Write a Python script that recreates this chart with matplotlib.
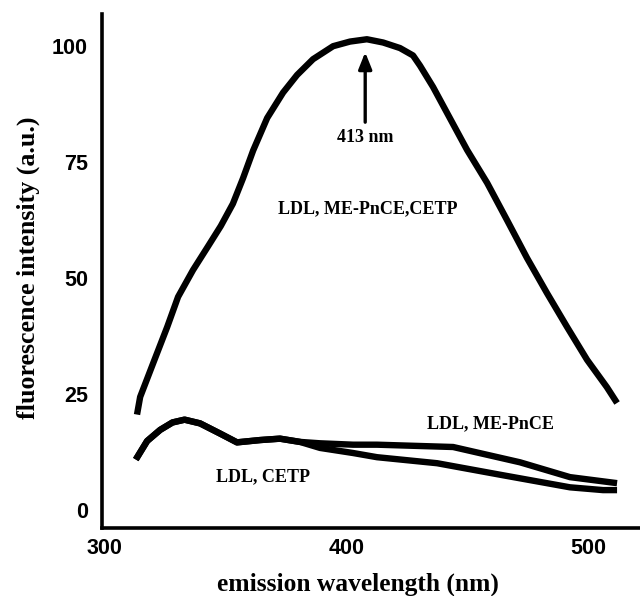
import matplotlib
matplotlib.use("Agg")
import matplotlib.pyplot as plt

# ---- data ----
wl_all = [313.3, 314.6, 320.0, 325.8, 330.3, 336.5, 342.7, 348.0, 353.0, 357.2,
          361.4, 367.2, 373.8, 379.6, 386.2, 394.5, 401.5, 408.5, 415.2, 422.2,
          427.6, 430.5, 435.9, 441.7, 450.0, 458.3, 466.5, 474.8, 483.1, 491.4,
          499.7, 507.9, 512.1]
int_all = [20.5, 24.3, 31.6, 39.4, 45.9, 51.7, 56.8, 61.2, 66.0, 71.5,
           77.5, 84.5, 90.0, 93.8, 97.2, 100.0, 101.0, 101.5, 100.8, 99.6,
           98.0, 95.8, 91.2, 85.6, 77.6, 70.5, 62.5, 54.3, 46.7, 39.4,
           32.3, 26.4, 23.0]

wl_pnce = [312.8, 317.5, 322.9, 328.0, 333.0, 339.4, 347.7, 354.7, 364.3, 372.5,
           380.8, 389.1, 402.8, 412.7, 444.2, 471.9, 492.6, 512.1]
int_pnce = [10.8, 14.8, 17.2, 18.8, 19.4, 18.6, 16.4, 14.5, 15.0, 15.3,
            14.6, 14.3, 14.0, 14.0, 13.5, 10.2, 7.0, 5.7]

wl_cetp = [312.8, 317.5, 322.9, 328.0, 333.0, 339.4, 347.7, 354.7, 364.3, 372.5,
           380.8, 389.1, 402.8, 412.7, 437.6, 464.9, 492.6, 506.3, 512.1]
int_cetp = [10.8, 14.8, 17.2, 18.8, 19.4, 18.6, 16.4, 14.5, 15.0, 15.3,
            14.6, 13.3, 12.2, 11.3, 10.0, 7.4, 4.8, 4.2, 4.2]

x_ticks = [300, 400, 500]
y_ticks = [0, 25, 50, 75, 100]

labels = {
    "LDL, ME-PnCE,CETP": (408.7, 65.0),
    "LDL, ME-PnCE": (459.5, 18.6),
    "LDL, CETP": (365.5, 7.1),
}
peak_label = "413 nm"
peak_x, peak_tip, peak_base, peak_text_y = 407.8, 98.7, 83.6, 80.2

# ---- figure ----
W, H = 640, 596
fig = plt.figure(figsize=(W / 100, H / 100), dpi=100)
ax = fig.add_axes([102 / W, 1 - 528 / H, 1 - 102 / W, (528 - 14) / H])

ax.set_xlim(298.8, 521.6)
ax.set_ylim(-3.98, 106.95)

lw_curve = 4.6
for xs, ys in [(wl_all, int_all), (wl_pnce, int_pnce), (wl_cetp, int_cetp)]:
    ax.plot(xs, ys, color="black", lw=lw_curve, solid_capstyle="butt",
            solid_joinstyle="round")

for s in ["top", "right"]:
    ax.spines[s].set_visible(False)
for s in ["left", "bottom"]:
    ax.spines[s].set_linewidth(2.6)

ax.set_xticks(x_ticks)
ax.set_yticks(y_ticks)
ax.set_xticklabels([str(t) for t in x_ticks], fontfamily="Liberation Sans",
                   fontweight="bold", fontsize=15.5)
ax.set_yticklabels([str(t) for t in y_ticks], fontfamily="Liberation Sans",
                   fontweight="bold", fontsize=15.5)
ax.tick_params(axis="both", length=0)
ax.tick_params(axis="x", pad=7)
ax.tick_params(axis="y", pad=10)

serif = "Liberation Serif"
for txt, (x, y) in labels.items():
    ax.text(x, y, txt, ha="center", va="center", fontfamily=serif,
            fontweight="bold", fontsize=13)

ax.annotate("", xy=(peak_x, peak_tip), xytext=(peak_x, peak_base),
            arrowprops=dict(arrowstyle="-|>,head_length=1.0,head_width=0.4",
                            color="black", lw=2.4, shrinkA=0, shrinkB=0))
ax.text(peak_x, peak_text_y, peak_label, ha="center", va="center",
        fontfamily=serif, fontweight="bold", fontsize=13)

fig.text(358 / W, 1 - 584 / H, "emission wavelength (nm)", ha="center",
         va="center", fontfamily=serif, fontweight="bold", fontsize=18.4)
fig.text(28 / W, 1 - 268 / H, "fluorescence intensity (a.u.)", ha="center",
         va="center", rotation=90, fontfamily=serif, fontweight="bold",
         fontsize=18.6)

fig.savefig("out.png", dpi=100)
